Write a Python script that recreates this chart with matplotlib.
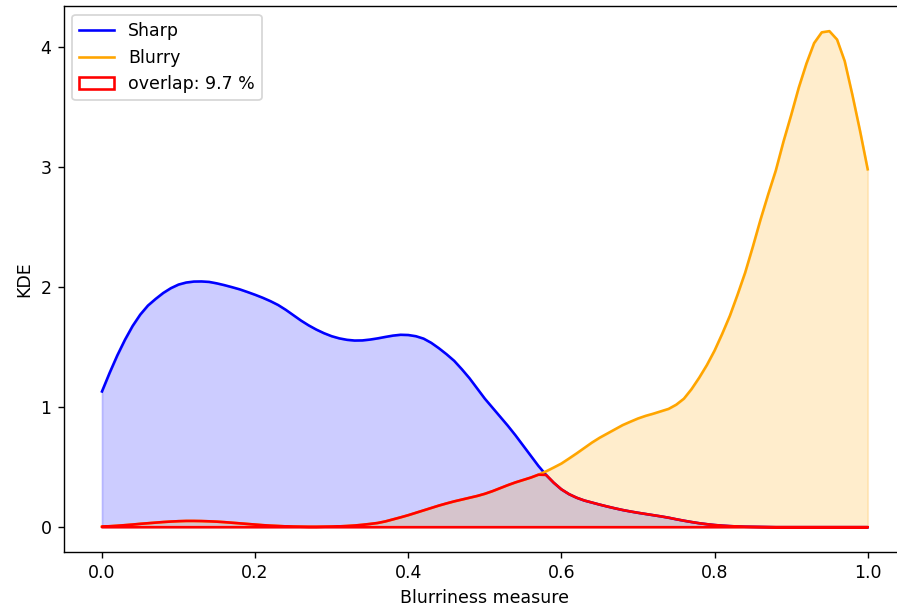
import numpy as np
import matplotlib
matplotlib.use("Agg")
import matplotlib.pyplot as plt

# blurriness grid and KDE values for each class
grid = np.round(np.linspace(0, 1, 101), 2)
kde_sharp = [1.13, 1.285, 1.43, 1.56, 1.675, 1.77, 1.845, 1.90, 1.95, 1.99,
             2.02, 2.037, 2.045, 2.046, 2.042, 2.03, 2.015, 1.998, 1.98, 1.958,
             1.935, 1.91, 1.882, 1.85, 1.81, 1.765, 1.72, 1.68, 1.645, 1.615,
             1.59, 1.572, 1.56, 1.554, 1.555, 1.562, 1.572, 1.584, 1.595, 1.602,
             1.60, 1.59, 1.57, 1.535, 1.49, 1.44, 1.385, 1.315, 1.24, 1.155,
             1.07, 0.995, 0.92, 0.845, 0.765, 0.68, 0.595, 0.51, 0.435, 0.37,
             0.315, 0.275, 0.245, 0.222, 0.205, 0.188, 0.172, 0.157, 0.143, 0.131,
             0.12, 0.11, 0.10, 0.09, 0.079, 0.066, 0.054, 0.043, 0.033, 0.025,
             0.018, 0.013, 0.009, 0.006, 0.004, 0.003, 0.002, 0.001, 0.0, 0.0,
             0.0, 0.0, 0.0, 0.0, 0.0, 0.0, 0.0, 0.0, 0.0, 0.0, 0.0]
kde_blurry = [0.005, 0.008, 0.012, 0.017, 0.022, 0.028, 0.033, 0.038, 0.043, 0.047,
              0.05, 0.052, 0.052, 0.051, 0.049, 0.046, 0.042, 0.037, 0.032, 0.027,
              0.022, 0.017, 0.013, 0.01, 0.007, 0.005, 0.004, 0.003, 0.003, 0.004,
              0.005, 0.007, 0.01, 0.014, 0.02, 0.027, 0.035, 0.048, 0.065, 0.082,
              0.10, 0.12, 0.14, 0.16, 0.18, 0.198, 0.215, 0.23, 0.245, 0.26,
              0.278, 0.30, 0.325, 0.35, 0.373, 0.393, 0.413, 0.437, 0.465, 0.497,
              0.53, 0.572, 0.615, 0.66, 0.705, 0.745, 0.78, 0.815, 0.85, 0.878,
              0.905, 0.927, 0.945, 0.965, 0.985, 1.02, 1.07, 1.15, 1.245, 1.35,
              1.47, 1.61, 1.76, 1.935, 2.12, 2.335, 2.56, 2.77, 2.97, 3.21,
              3.43, 3.66, 3.86, 4.03, 4.12, 4.13, 4.06, 3.88, 3.60, 3.30, 2.98]
overlap_pct = 9.7

fig = plt.figure(figsize=(7.176, 4.872), dpi=125)
ax = fig.add_axes([0.071, 0.0936, 0.939, 0.896])

ax.plot(grid, kde_sharp, color='blue', label='Sharp')
ax.fill_between(grid, kde_sharp, alpha=0.2, color='blue')
ax.plot(grid, kde_blurry, color='orange', label='Blurry')
ax.fill_between(grid, kde_blurry, alpha=0.2, color='orange')
# region under both curves, outlined on top of everything
ax.fill_between(grid, np.minimum(kde_sharp, kde_blurry), facecolor='none',
                edgecolor='red', linewidth=1.5, zorder=3,
                label=f'overlap: {overlap_pct} %')

ax.set_yticks([0, 1, 2, 3, 4])
ax.set_xlabel('Blurriness measure')
ax.set_ylabel('KDE')
ax.legend(loc='upper left')
fig.savefig('out.png', dpi=125)
